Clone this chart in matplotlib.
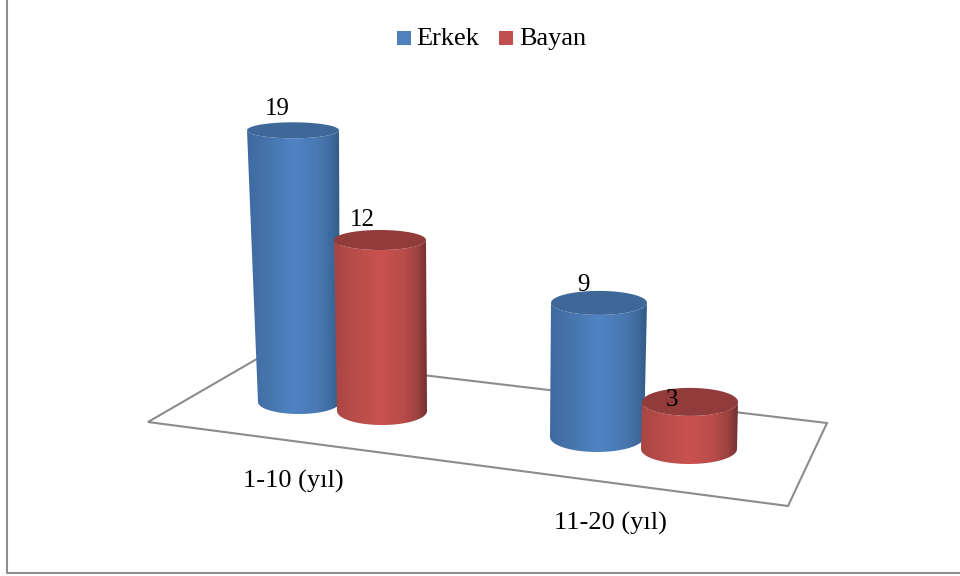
import matplotlib
matplotlib.use('Agg')
import matplotlib.pyplot as plt
import numpy as np
from matplotlib.colors import LinearSegmentedColormap
from matplotlib.patches import PathPatch, Polygon, Rectangle
from matplotlib.path import Path

# Values
categories = ['1-10 (yıl)', '11-20 (yıl)']
series_names = ['Erkek', 'Bayan']
erkek = [19, 9]
bayan = [12, 3]

# Pixel layout of the fake 3D scene
base_x = [[299, 597], [382, 689]]
base_y = [[402, 437], [411, 449]]
base_rx = [[41, 47], [45, 48]]
base_ry = [[12, 15], [14, 15]]
top_x = [[293, 599], [380, 690]]
top_rx = [[46, 48], [46, 48]]
top_ry = [[8, 12], [10, 14]]
unit_px = [[14.3, 14.9], [14.25, 15.7]]
label_dx = [[-16, -16], [-18, -18]]
label_dy = [[-21, -18], [-20, -2]]

blue_cmap = LinearSegmentedColormap.from_list('b', [(0, '#3d6a9f'), (0.2, '#4674ab'), (0.5, '#4f83c2'),
                                                    (0.75, '#4a79b3'), (0.9, '#3f6c9f'), (1, '#335a86')])
red_cmap = LinearSegmentedColormap.from_list('r', [(0, '#a84644'), (0.25, '#ba4d4a'), (0.5, '#c9524f'),
                                                   (0.75, '#b84c49'), (0.9, '#9c4240'), (1, '#743130')])
cap_colors = ['#3f6899', '#913c3a']
legend_colors = ['#4f81bd', '#c0504d']

plt.rcParams['font.family'] = ['Liberation Serif', 'DejaVu Serif']

fig = plt.figure(figsize=(9.6, 5.76), dpi=100)
ax = fig.add_axes([0, 0, 1, 1])
ax.set_xlim(0, 960)
ax.set_ylim(576, 0)
ax.axis('off')

# Chart frame, only left and bottom edges are visible
ax.plot([7, 7, 960], [0, 573, 573], color='#8e8e8e', lw=1.5)

# Floor
ax.add_patch(Polygon([(148, 422), (262, 356), (827, 423), (788, 506)], closed=True,
                     fill=False, edgecolor='#8c8c8c', lw=1.5))


def draw_cylinder(value, cx, cy, rx, ry, tx, trx, try_, unit, cmap, cap):
    top = cy - value * unit
    t = np.linspace(0, np.pi, 60)
    bottom_arc = np.column_stack([cx + rx * np.cos(t), cy + ry * np.sin(t)])
    top_arc = np.column_stack([tx - trx * np.cos(t), top + try_ * np.sin(t)])
    body = Path(np.vstack([bottom_arc, top_arc, bottom_arc[:1]]))
    left = min(cx - rx, tx - trx)
    right = max(cx + rx, tx + trx)
    grad = np.linspace(0, 1, 256).reshape(1, -1)
    im = ax.imshow(grad, cmap=cmap, aspect='auto', extent=[left, right, cy + ry, top - try_], zorder=3)
    clip = PathPatch(body, transform=ax.transData, facecolor='none', edgecolor='none')
    ax.add_patch(clip)
    im.set_clip_path(clip)
    t2 = np.linspace(0, 2 * np.pi, 100)
    ax.fill(tx + trx * np.cos(t2), top + try_ * np.sin(t2), color=cap, lw=0, zorder=3)
    return top


tops = [[0, 0], [0, 0]]
for s, values in enumerate([erkek, bayan]):
    for c, v in enumerate(values):
        tops[s][c] = draw_cylinder(v, base_x[s][c], base_y[s][c], base_rx[s][c], base_ry[s][c],
                                   top_x[s][c], top_rx[s][c], top_ry[s][c], unit_px[s][c],
                                   [blue_cmap, red_cmap][s], cap_colors[s])
ax.set_xlim(0, 960)
ax.set_ylim(576, 0)

# Data labels
for s, values in enumerate([erkek, bayan]):
    for c, v in enumerate(values):
        ax.text(top_x[s][c] + label_dx[s][c], tops[s][c] + label_dy[s][c], str(v), fontsize=18,
                ha='center', va='center', color='black', zorder=5)

# Category labels
ax.text(293, 481, categories[0], fontsize=19, ha='center', va='center', color='black')
ax.text(610, 523, categories[1], fontsize=19, ha='center', va='center', color='black')

# Legend
ax.add_patch(Rectangle((397, 31), 14, 14, facecolor=legend_colors[0], edgecolor='none'))
ax.add_patch(Rectangle((499, 31), 14, 14, facecolor=legend_colors[1], edgecolor='none'))
ax.text(416, 39, series_names[0], fontsize=19, ha='left', va='center', color='black')
ax.text(519, 39, series_names[1], fontsize=19, ha='left', va='center', color='black')

fig.savefig('out.png', dpi=100)
